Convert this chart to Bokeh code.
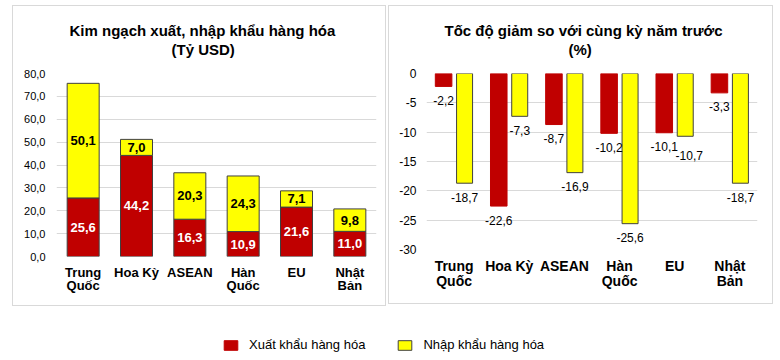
from bokeh.plotting import figure
from bokeh.models import (ColumnDataSource, FactorRange, Range1d, FixedTicker,
                          Legend, LegendItem, Spacer, Title, CategoricalAxis,
                          CustomJSTickFormatter)
from bokeh.layouts import row, column
from bokeh.transform import dodge
from bokeh.core.properties import value
from bokeh.embed import file_html
from bokeh.resources import INLINE

# ---------------- data ----------------
categories = ["Trung Quốc", "Hoa Kỳ", "ASEAN", "Hàn Quốc", "EU", "Nhật Bản"]
label_line1 = ["Trung", "Hoa Kỳ", "ASEAN", "Hàn", "EU", "Nhật"]
label_line2 = ["Quốc", "", "", "Quốc", "", "Bản"]
export_value = [25.6, 44.2, 16.3, 10.9, 21.6, 11.0]
import_value = [50.1, 7.0, 20.3, 24.3, 7.1, 9.8]
export_change = [-2.2, -22.6, -8.7, -10.2, -10.1, -3.3]
import_change = [-18.7, -7.3, -16.9, -25.6, -10.7, -18.7]
left_ticks = [0, 10, 20, 30, 40, 50, 60, 70, 80]
left_tick_labels = ["0,0", "10,0", "20,0", "30,0", "40,0", "50,0", "60,0", "70,0", "80,0"]
right_ticks = [0, -5, -10, -15, -20, -25, -30]
right_tick_labels = ["0", "-5", "-10", "-15", "-20", "-25", "-30"]
series_names = ["Xuất khẩu hàng hóa", "Nhập khẩu hàng hóa"]
title_left = ["Kim ngạch xuất, nhập khẩu hàng hóa", "(Tỷ USD)"]
title_right = ["Tốc độ giảm so với cùng kỳ năm trước", "(%)"]

# ---------------- style ----------------
FONT = "Liberation Sans"
RED = "#C00000"
YELLOW = "#FFFF00"
EDGE = "#404040"
GRID = "#D9D9D9"
BOX = {"border": "1px solid #D9D9D9", "box-sizing": "border-box"}


def fmt(v):
    return f"{v:.1f}".replace(".", ",")


def label_formatter(lines):
    return CustomJSTickFormatter(
        args=dict(names=categories, lines=lines),
        code="const i = names.indexOf(tick); return i >= 0 ? lines[i] : tick;")


def style_title(t, offset, standoff):
    t.align = "left"
    t.text_font = FONT
    t.text_font_size = "15px"
    t.text_font_style = "bold"
    t.text_color = "#000000"
    t.standoff = standoff
    t.offset = offset


def style_xaxis(ax, size, standoff):
    ax.axis_line_color = None
    ax.major_tick_line_color = None
    ax.minor_tick_line_color = None
    ax.major_tick_out = 0
    ax.major_tick_in = 0
    ax.major_label_text_font = FONT
    ax.major_label_text_color = "#000000"
    ax.major_label_text_font_style = "bold"
    ax.major_label_text_font_size = size
    ax.major_label_standoff = standoff


def style_common(p, titles, title_offsets, gap_below_titles, label_size, std1, std2):
    # keep a handle on the main (bottom) category axis before adding others
    xa = p.below[0]
    ya = p.left[0]

    # label-less spacer axis between the frame and the two title lines
    sp = CategoricalAxis(major_tick_out=gap_below_titles, major_tick_in=0,
                         major_tick_line_color=None, axis_line_color=None,
                         major_label_standoff=0, major_label_text_font_size="1px",
                         formatter=CustomJSTickFormatter(code="return '';"))
    p.add_layout(sp, "above")
    t2 = Title(text=titles[1])
    style_title(t2, title_offsets[1], 0)
    p.add_layout(t2, "above")
    p.title.text = titles[0]
    style_title(p.title, title_offsets[0], 0)

    p.outline_line_color = None
    p.xgrid.grid_line_color = None
    p.ygrid.grid_line_color = GRID
    p.ygrid.grid_line_width = 1
    ya.axis_line_color = None
    ya.major_tick_line_color = None
    ya.minor_tick_line_color = None
    ya.major_tick_out = 0
    ya.major_tick_in = 0
    ya.major_label_text_font = FONT
    ya.major_label_text_color = "#000000"
    style_xaxis(xa, label_size, std1)
    xa.formatter = label_formatter(label_line1)
    xa2 = CategoricalAxis()
    style_xaxis(xa2, label_size, std2)
    xa2.formatter = label_formatter(label_line2)
    p.add_layout(xa2, "below")
    return ya


# ---------------- left chart ----------------
src1 = ColumnDataSource(dict(
    cat=categories,
    exp=export_value,
    imp=import_value,
    exp_mid=[e / 2 for e in export_value],
    imp_mid=[e + i / 2 for e, i in zip(export_value, import_value)],
    exp_lbl=[fmt(v) for v in export_value],
    imp_lbl=[fmt(v) for v in import_value],
))

p1 = figure(x_range=FactorRange(factors=categories), y_range=Range1d(0, 80),
            frame_width=318, frame_height=181, output_backend="svg",
            toolbar_location=None, min_border_left=43, min_border_right=11,
            min_border_top=67, min_border_bottom=51)
ya1 = style_common(p1, title_left, (13, 115), 16, "13px", 8, -5)
ya1.ticker = FixedTicker(ticks=left_ticks)
ya1.major_label_overrides = dict(zip(left_ticks, left_tick_labels))
ya1.major_label_text_font_size = "11px"
ya1.major_label_standoff = 11

p1.vbar_stack(["exp", "imp"], x="cat", width=0.6, source=src1,
              fill_color=[RED, YELLOW], line_color=EDGE, line_width=1)
p1.text(x="cat", y="exp_mid", text="exp_lbl", source=src1, text_color="#FFFFFF",
        text_font=value(FONT), text_font_style="bold", text_font_size="13px",
        text_align="center", text_baseline="middle")
p1.text(x="cat", y="imp_mid", text="imp_lbl", source=src1, text_color="#000000",
        text_font=value(FONT), text_font_style="bold", text_font_size="13px",
        text_align="center", text_baseline="middle")
p1.styles = BOX

# ---------------- right chart ----------------
imp_label_dx = [0, 0, 0, 0, 4, 0]
imp_label_dy = [14, 14, 14, 14, 19, 14]
src2 = ColumnDataSource(dict(
    cat=categories,
    exp=export_change,
    imp=import_change,
    exp_lbl=[fmt(v) for v in export_change],
    imp_lbl=[fmt(v) for v in import_change],
    imp_dx=imp_label_dx,
    imp_dy=imp_label_dy,
))

p2 = figure(x_range=FactorRange(factors=categories), y_range=Range1d(-30, 0),
            frame_width=329, frame_height=174, output_backend="svg",
            toolbar_location=None, min_border_left=37, min_border_right=17,
            min_border_top=67, min_border_bottom=56)
ya2 = style_common(p2, title_right, (18, 142), 16, "14px", 8, -4)
ya2.ticker = FixedTicker(ticks=right_ticks)
ya2.major_label_overrides = dict(zip(right_ticks, right_tick_labels))
ya2.major_label_text_font_size = "12px"
ya2.major_label_standoff = 10

p2.vbar(x=dodge("cat", -0.19, range=p2.x_range), top=0, bottom="exp", width=0.3,
        source=src2, fill_color=RED, line_color=RED)
p2.vbar(x=dodge("cat", 0.19, range=p2.x_range), top=0, bottom="imp", width=0.29,
        source=src2, fill_color=YELLOW, line_color=EDGE, line_width=1)
p2.text(x=dodge("cat", -0.19, range=p2.x_range), y="exp", text="exp_lbl", source=src2,
        text_color="#000000", text_font=value(FONT), text_font_size="12px",
        text_align="center", text_baseline="middle", y_offset=14)
p2.text(x=dodge("cat", 0.19, range=p2.x_range), y="imp", text="imp_lbl", source=src2,
        text_color="#000000", text_font=value(FONT), text_font_size="12px",
        text_align="center", text_baseline="middle", x_offset="imp_dx", y_offset="imp_dy")
p2.styles = BOX

# ---------------- legend strip ----------------
p3 = figure(width=770, height=52, output_backend="svg", toolbar_location=None,
            x_range=Range1d(0, 1), y_range=Range1d(0, 1), min_border=0)
p3.axis.visible = False
p3.grid.visible = False
p3.outline_line_color = None
r_exp = p3.vbar(x=[-5], top=[-5], bottom=[-6], width=1, fill_color=RED, line_color=RED)
r_imp = p3.vbar(x=[-5], top=[-5], bottom=[-6], width=1, fill_color=YELLOW, line_color=EDGE)
legend = Legend(items=[LegendItem(label=series_names[0], renderers=[r_exp]),
                       LegendItem(label=series_names[1], renderers=[r_imp])],
                orientation="horizontal", location=(222, 6), padding=0, margin=0,
                spacing=31, glyph_width=17, glyph_height=12, label_height=12,
                label_standoff=10, label_text_font=FONT, label_text_font_size="13px",
                label_text_color="#000000", border_line_color=None,
                background_fill_alpha=0)
p3.add_layout(legend)

layout = column(
    Spacer(height=5),
    row(Spacer(width=12), p1, Spacer(width=2), p2, spacing=0),
    p3,
    spacing=0,
)

with open("out.html", "w") as f:
    f.write(file_html(layout, INLINE))
